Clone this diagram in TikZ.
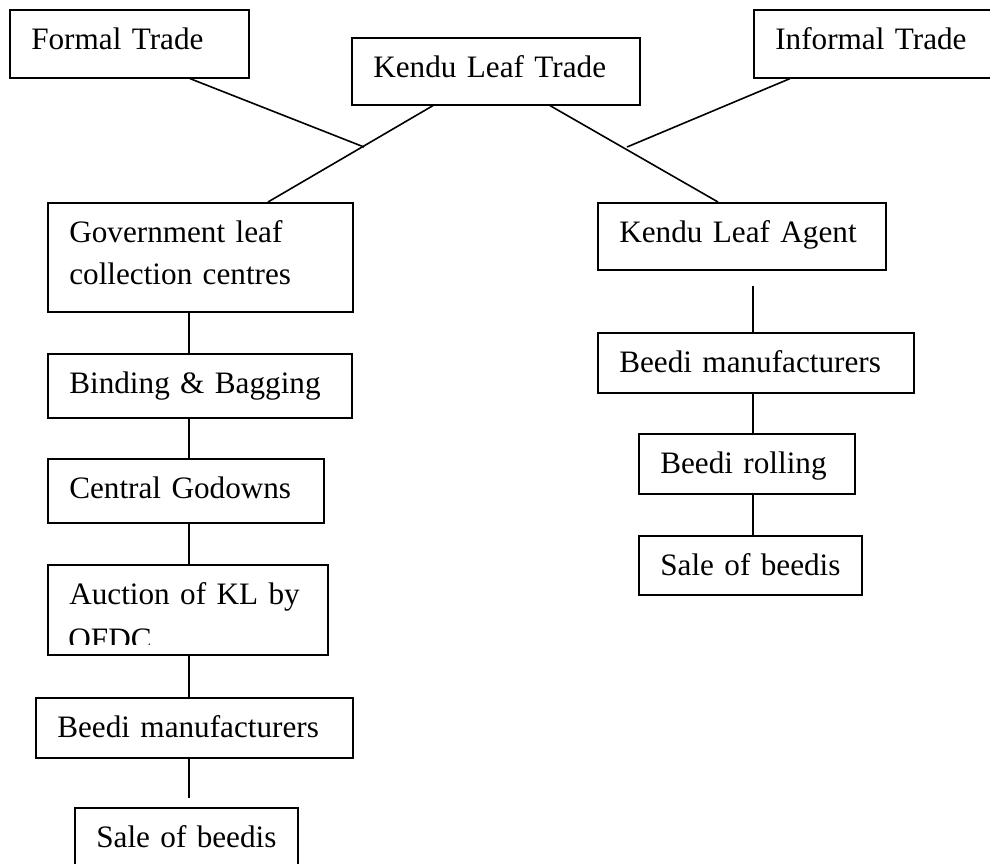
\documentclass[tikz,border=0pt]{standalone}
\usepackage{fontspec}
\setmainfont{Liberation Serif}
\begin{document}
\begin{tikzpicture}[x=0.5pt,y=-0.5pt,
  box/.style={draw, line width=0.8pt, anchor=north west, inner xsep=10.75pt, inner ysep=0pt,
    align=left, text height=20pt, font=\fontsize{15.6pt}{21pt}\selectfont},
  plain/.style={anchor=base west, inner sep=0pt, font=\fontsize{15.6pt}{21pt}\selectfont},
  conn/.style={line width=0.8pt}]
\useasboundingbox (0,0) rectangle (990,863);
% top row
\node[box, text width=98pt, text depth=14pt] (fo) at (9,9) {Formal~Trade};
\node[box, text width=122.5pt, text depth=13.5pt] (kt) at (351,37) {Kendu~Leaf~Trade};
\node[box, text width=108.5pt, text depth=14pt] (inf) at (753,9) {Informal~Trade};
% left column
\node[box, text width=131pt, text depth=34.5pt] (gov) at (47,202) {Government~leaf\\collection~centres};
\node[box, text width=130.5pt, text depth=12pt] (bind) at (47,353) {Binding~\&~Bagging};
\node[box, text width=116.5pt, text depth=12pt] (cg) at (47,458) {Central~Godowns};
\node[box, text width=118.5pt, text depth=25pt] (auc) at (47,564) {Auction~of~KL~by};
\begin{scope}
  \clip (47,564) rectangle (327,644);
  \node[plain] (ofdc) at (68,649) {OFDC};
\end{scope}
\node[box, text width=137pt, text depth=10pt] (bmL) at (35,697) {Beedi~manufacturers};
\node[box, text width=90pt, text depth=12.5pt] (sL) at (74,807) {Sale~of~beedis};
% right column
\node[box, text width=122.5pt, text depth=13.5pt] (ag) at (597,202) {Kendu~Leaf~Agent};
\node[box, text width=136.5pt, text depth=10pt] (bmR) at (597,332) {Beedi~manufacturers};
\node[box, text width=86.5pt, text depth=10pt] (rol) at (638,433) {Beedi~rolling};
\node[box, text width=90pt, text depth=9.5pt] (sR) at (638,535) {Sale~of~beedis};
% free ends
\coordinate (fx) at (364,147);
\coordinate (ix) at (627,147);
\coordinate (lend) at (189,798);
\coordinate (rstart) at (753,286);
% connectors
\draw[conn] ([xshift=90.5pt]fo.south west) -- (fx);
\draw[conn] ([xshift=41pt]kt.south west) -- ([xshift=110.5pt]gov.north west);
\draw[conn] ([xshift=99.5pt]kt.south west) -- ([xshift=60.5pt]ag.north west);
\draw[conn] ([xshift=18.5pt]inf.south west) -- (ix);
\draw[conn] ([xshift=71pt]gov.south west) -- ([xshift=71pt]bind.north west);
\draw[conn] ([xshift=71pt]bind.south west) -- ([xshift=71pt]cg.north west);
\draw[conn] ([xshift=71pt]cg.south west) -- ([xshift=71pt]auc.north west);
\draw[conn] ([xshift=71pt]auc.south west) -- ([xshift=77pt]bmL.north west);
\draw[conn] ([xshift=77pt]bmL.south west) -- (lend);
\draw[conn] (rstart) -- ([xshift=78pt]bmR.north west);
\draw[conn] ([xshift=78pt]bmR.south west) -- ([xshift=57.5pt]rol.north west);
\draw[conn] ([xshift=57.5pt]rol.south west) -- ([xshift=57.5pt]sR.north west);
\end{tikzpicture}
\end{document}
